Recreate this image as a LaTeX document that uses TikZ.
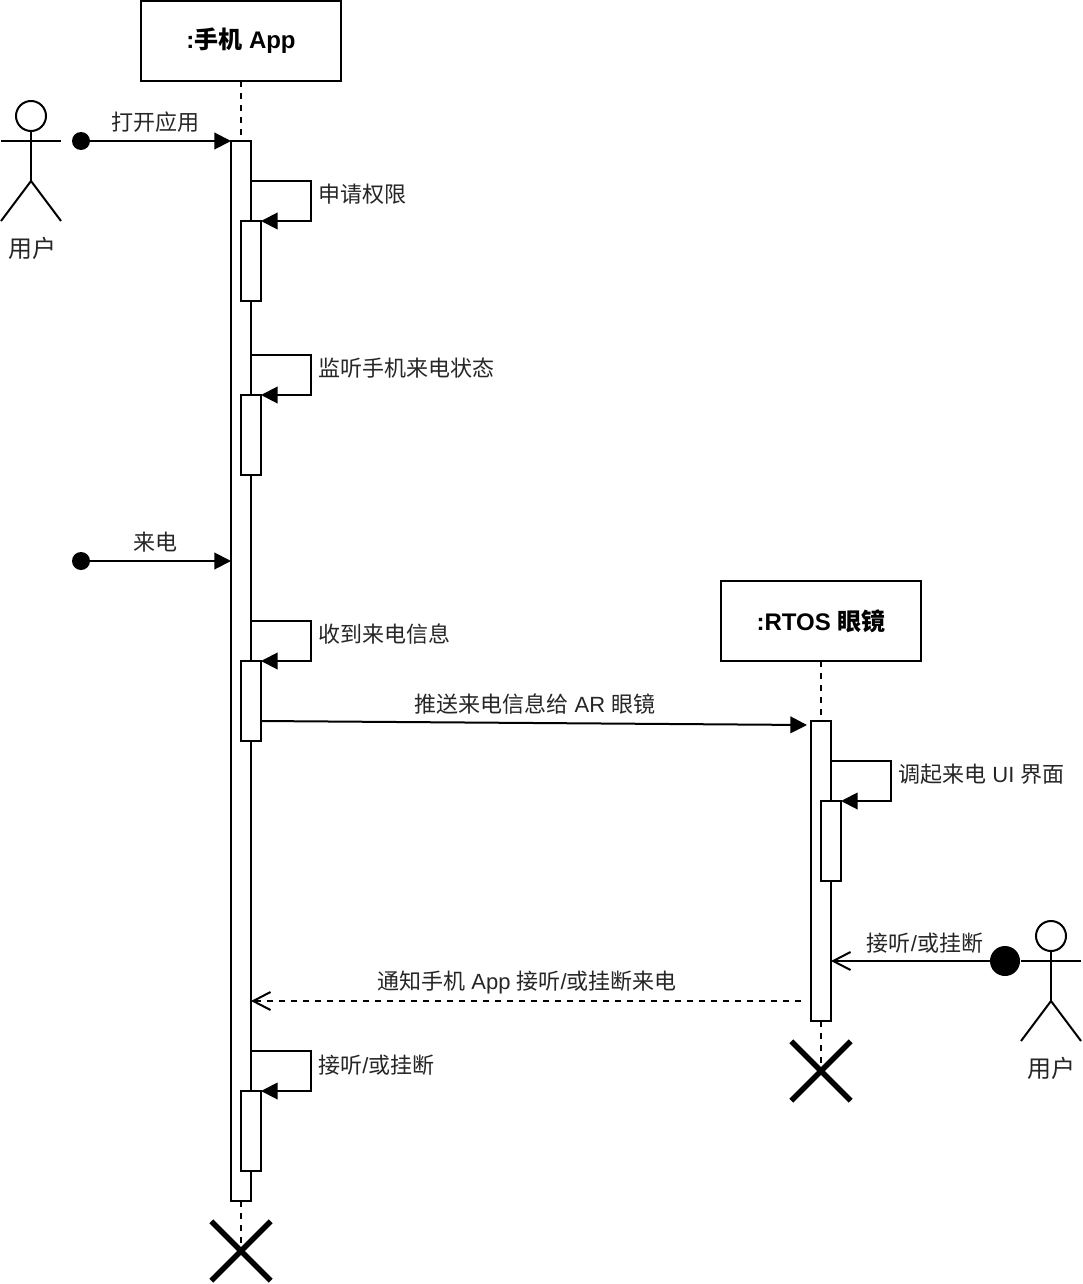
\documentclass[tikz,border=0pt]{standalone}
\usepackage{fontspec}
\setmainfont{Liberation Sans}
\newfontfamily\cjk{Noto Sans CJK SC}
\usetikzlibrary{arrows.meta,positioning,shapes.misc}
\tikzset{
  lifebox/.style={draw, fill=white, line width=1.5pt, minimum width=150pt, minimum height=60pt, outer sep=0pt, font=\fontsize{18}{22}\selectfont\bfseries},
  actbar/.style={draw, fill=white, line width=1.5pt, minimum width=15pt, outer sep=0pt, inner sep=0pt},
  lifeline/.style={line width=1.5pt, dash pattern=on 4.5pt off 4.5pt},
  endcross/.style={cross out, draw, line width=4.1pt, minimum size=44.5pt, inner sep=0pt, outer sep=0pt},
  startdot/.style={circle, fill=black, minimum size=13.5pt, inner sep=0pt, outer sep=0pt},
  msg/.style={line width=1.5pt, -{Triangle[length=12.5pt,width=12.5pt]}},
  replymsg/.style={line width=1.5pt, -{Straight Barb[length=13pt,width=13.5pt]}},
  lbl/.style={font=\fontsize{16.5}{20}\selectfont, inner sep=0pt, text=black!85},
  userlbl/.style={font=\fontsize{18}{22}\selectfont, inner sep=0pt, text=black!85},
  limb/.style={line width=1.5pt},
}

\begin{document}
\begin{tikzpicture}[x=0.75pt,y=-0.75pt]
\useasboundingbox (0,0) rectangle (1082,1284);
\fill[white] (0,0) rectangle (1082,1284);
% lifelines
\node[lifebox] (appbox) at (241,41) {:{\cjk 手机} App};
\node[lifebox] (rtosbox) at (821,621) {:RTOS {\cjk 眼镜}};
\node[actbar, minimum height=795pt] (appbar) at (241,671) {};
\node[actbar, minimum height=225pt] (rtosbar) at (821,871) {};
\node[endcross] (append) at (241,1251) {};
\node[endcross] (rtosend) at (821,1071) {};
\draw[lifeline] (appbox.south) -- (appbar.north);
\draw[lifeline] (appbar.south) -- (append.center);
\draw[lifeline] (rtosbox.south) -- (rtosbar.north);
\draw[lifeline] (rtosbar.south) -- (rtosend.center);
% inner bars
\node[actbar, minimum height=60pt] (permbar) at (251,261) {};
\node[actbar, minimum height=60pt] (watchbar) at (251,435) {};
\node[actbar, minimum height=60pt] (recvbar) at (251,701) {};
\node[actbar, minimum height=60pt] (answerbar) at (251,1131) {};
\node[actbar, minimum height=60pt] (uibar) at (831,841) {};
% self calls
\coordinate (permfrom) at (251,181);
\coordinate (watchfrom) at (251,355);
\coordinate (recvfrom) at (251,621);
\coordinate (answerfrom) at (251,1051);
\coordinate (uifrom) at (831,761);
\draw[msg] (permfrom) -- ++(60,0) |- (permbar.north east);
\draw[msg] (watchfrom) -- ++(60,0) |- (watchbar.north east);
\draw[msg] (recvfrom) -- ++(60,0) |- (recvbar.north east);
\draw[msg] (answerfrom) -- ++(60,0) |- (answerbar.north east);
\draw[msg] (uifrom) -- ++(60,0) |- (uibar.north east);
\node[lbl, anchor=west] (permlbl) at (318,194.5) {\cjk 申请权限};
\node[lbl, anchor=west] (watchlbl) at (318,368.5) {\cjk 监听手机来电状态};
\node[lbl, anchor=west] (recvlbl) at (318,634.5) {\cjk 收到来电信息};
\node[lbl, anchor=west] (answerlbl) at (318,1065) {{\cjk 接听}/{\cjk 或挂断}};
\node[lbl, anchor=west] (uilbl) at (898,774) {{\cjk 调起来电} UI {\cjk 界面}};
% user on the left
\node[draw, circle, line width=1.5pt, minimum size=22.5pt, inner sep=0pt, outer sep=0pt] (lefthead) at (31,116) {};
\coordinate (lefthip) at (31,181);
\draw[limb] (lefthead.south) -- (lefthip);
\draw[limb] (1,141) -- (61,141);
\draw[limb] (1,221) -- (lefthip) -- (61,221);
\node[userlbl] (leftlbl) at (32,248) {\cjk 用户};
% user on the right
\node[draw, circle, line width=1.5pt, minimum size=22.5pt, inner sep=0pt, outer sep=0pt] (righthead) at (1051,936) {};
\coordinate (righthip) at (1051,1001);
\draw[limb] (righthead.south) -- (righthip);
\draw[limb] (1021,961) -- (1081,961);
\draw[limb] (1021,1041) -- (righthip) -- (1081,1041);
\node[userlbl] (rightlbl) at (1051,1068) {\cjk 用户};
% messages
\node[startdot] (opendot) at (81,141) {};
\node[startdot] (calldot) at (81,561) {};
\node[startdot, minimum size=22.5pt] (pickdot) at (1005,961) {};
\coordinate (callin) at (231,561);
\coordinate (pushfrom) at (261,721);
\coordinate (pushto) at (807,725);
\coordinate (pickto) at (831,961);
\coordinate (notefrom) at (801,1001);
\coordinate (noteto) at (251,1001);
\draw[msg] (opendot.center) -- (appbar.north west);
\draw[msg] (calldot.center) -- (callin);
\draw[msg] (pushfrom) -- (pushto);
\draw[replymsg] (pickdot.center) -- (pickto);
\draw[replymsg, dash pattern=on 4.5pt off 4.5pt] (notefrom) -- (noteto);
\node[lbl] (openlbl) at (155,122) {\cjk 打开应用};
\node[lbl] (calllbl) at (155,542) {\cjk 来电};
\node[lbl] (pushlbl) at (535,704) {{\cjk 推送来电信息给} AR {\cjk 眼镜}};
\node[lbl] (picklbl) at (925,943) {{\cjk 接听}/{\cjk 或挂断}};
\node[lbl] (notelbl) at (527,983) {{\cjk 通知手机} App {\cjk 接听}/{\cjk 或挂断来电}};
\end{tikzpicture}
\end{document}
